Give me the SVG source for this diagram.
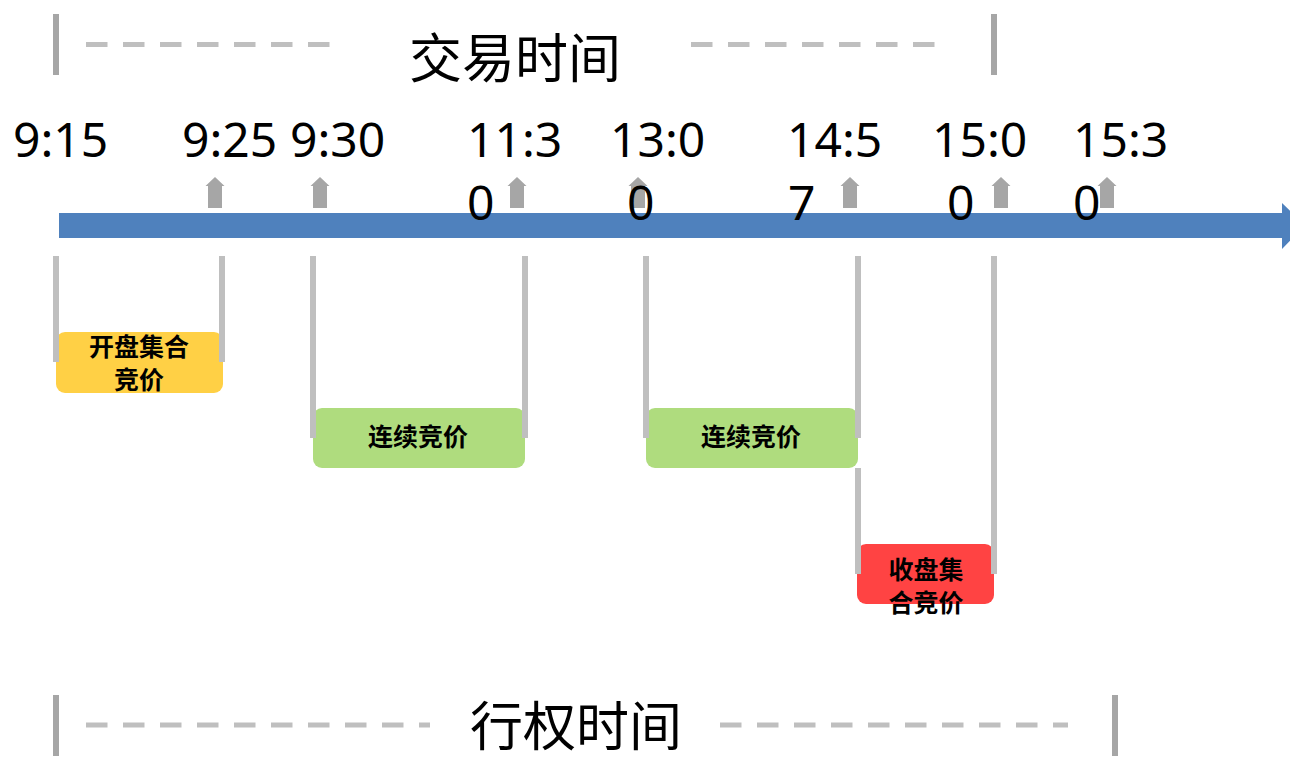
<svg xmlns="http://www.w3.org/2000/svg" width="1290" height="758" viewBox="0 0 1290 758">
<style>
.bar{stroke:#a6a6a6;stroke-width:6}
.dash{stroke:#bfbfbf;stroke-width:5;stroke-dasharray:21.5 15.5}
.tick{stroke:#bfbfbf;stroke-width:6}
.title{font-family:"Noto Sans CJK SC","Noto Sans",sans-serif;font-size:53px;fill:#000}
.time{font-family:"Noto Sans","Noto Sans CJK SC",sans-serif;font-size:48px;fill:#000}
.lbl{font-family:"Noto Sans CJK SC",sans-serif;font-size:25px;font-weight:bold;fill:#000;text-anchor:middle}
.up{fill:#a6a6a6}
</style>
<defs>
<polygon id="up" points="0,177 9.5,186 7,186 7,208 -7,208 -7,186 -9.5,186"/>
</defs>
<rect width="1290" height="758" fill="#fff"/>
<g id="trade-bracket">
<line class="bar" x1="56" y1="14" x2="56" y2="75"/>
<line class="dash" x1="86" y1="44.5" x2="333" y2="44.5"/>
<line class="dash" x1="691" y1="44.5" x2="937" y2="44.5"/>
<line class="bar" x1="994" y1="14" x2="994" y2="75"/>
<text class="title" x="515" y="78" text-anchor="middle">交易时间</text>
</g>
<g id="exercise-bracket">
<line class="bar" x1="56" y1="695" x2="56" y2="756"/>
<line class="dash" x1="86" y1="725" x2="430" y2="725"/>
<line class="dash" x1="720" y1="725" x2="1068" y2="725"/>
<line class="bar" x1="1115" y1="695" x2="1115" y2="756"/>
<text class="title" x="576" y="746" text-anchor="middle">行权时间</text>
</g>
<g id="timeline">
<polygon fill="#4f81bd" points="59,213 1282,213 1282,203 1305,225.5 1282,249 1282,238 59,238"/>
</g>
<g id="markers">
<use href="#up" class="up" x="215"/>
<use href="#up" class="up" x="320"/>
<use href="#up" class="up" x="517"/>
<use href="#up" class="up" x="638"/>
<use href="#up" class="up" x="850"/>
<use href="#up" class="up" x="1001"/>
<use href="#up" class="up" x="1107"/>
</g>
<g id="box-open">
<rect x="56" y="332" width="167" height="61" rx="9" fill="#ffd045"/>
<text class="lbl" x="139" y="356">开盘集合</text>
<text class="lbl" x="139" y="389">竞价</text>
</g>
<g id="box-cont1">
<rect x="313" y="408" width="212" height="60" rx="9" fill="#afdc7e"/>
<text class="lbl" x="418" y="446">连续竞价</text>
</g>
<g id="box-cont2">
<rect x="646" y="408" width="212" height="60" rx="9" fill="#afdc7e"/>
<text class="lbl" x="751" y="446">连续竞价</text>
</g>
<g id="box-close">
<rect x="857" y="544" width="137" height="60" rx="9" fill="#ff4343"/>
<text class="lbl" x="926" y="579">收盘集</text>
<text class="lbl" x="926" y="612">合竞价</text>
</g>
<g id="connectors">
<line class="tick" x1="56" y1="256" x2="56" y2="362"/>
<line class="tick" x1="222" y1="256" x2="222" y2="362"/>
<line class="tick" x1="313" y1="256" x2="313" y2="438"/>
<line class="tick" x1="525" y1="256" x2="525" y2="438"/>
<line class="tick" x1="646" y1="256" x2="646" y2="438"/>
<line class="tick" x1="858" y1="256" x2="858" y2="438"/>
<line class="tick" x1="858" y1="468" x2="858" y2="574"/>
<line class="tick" x1="994" y1="256" x2="994" y2="574"/>
</g>
<g id="times">
<text class="time" x="13" y="157">9:15</text>
<text class="time" x="182" y="157">9:25</text>
<text class="time" x="290" y="157">9:30</text>
<text class="time" x="467" y="157">11:3</text>
<text class="time" x="467" y="220">0</text>
<text class="time" x="610" y="157">13:0</text>
<text class="time" x="627" y="220">0</text>
<text class="time" x="787" y="157">14:5</text>
<text class="time" x="788" y="220">7</text>
<text class="time" x="932" y="157">15:0</text>
<text class="time" x="947" y="220">0</text>
<text class="time" x="1073" y="157">15:3</text>
<text class="time" x="1073" y="220">0</text>
</g>
</svg>
